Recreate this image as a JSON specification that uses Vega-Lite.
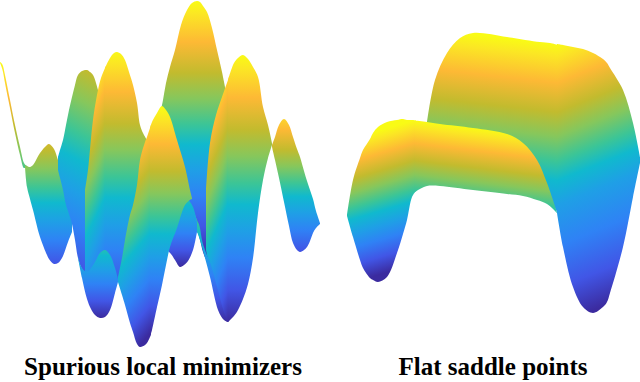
{"$schema":"https://vega.github.io/schema/vega-lite/v6.json","padding":0,"spacing":0,"bounds":"flush","background":"white","config":{"view":{"stroke":null}},
"hconcat":[
{"width":320,"height":350,"title":{"text":"Spurious local minimizers","orient":"bottom","font":"Liberation Serif","fontWeight":"bold","fontSize":25,"color":"#000","dx":3,"offset":5},
"data":{"values":[
{"s":"tail","x":0,"top":62,"bottom":63},{"s":"tail","x":3,"top":66,"bottom":72},{"s":"tail","x":5,"top":75,"bottom":83},{"s":"tail","x":10,"top":100,"bottom":108},{"s":"tail","x":15,"top":125,"bottom":133},{"s":"tail","x":20,"top":147,"bottom":155},{"s":"tail","x":24,"top":163,"bottom":168},{"s":"tail","x":27,"top":166,"bottom":168},
{"s":"lobe","x":25,"top":165,"bottom":167},{"s":"lobe","x":27,"top":166,"bottom":187},{"s":"lobe","x":30,"top":167,"bottom":199},{"s":"lobe","x":33,"top":165,"bottom":210},{"s":"lobe","x":40,"top":153,"bottom":237},{"s":"lobe","x":47,"top":145,"bottom":255},{"s":"lobe","x":49,"top":144,"bottom":259},{"s":"lobe","x":54,"top":149,"bottom":264},{"s":"lobe","x":58,"top":160,"bottom":263},{"s":"lobe","x":62,"top":170,"bottom":258},{"s":"lobe","x":68,"top":190,"bottom":242},{"s":"lobe","x":72,"top":215,"bottom":232},
{"s":"b","x":58,"top":157,"bottom":170},{"s":"b","x":60,"top":150,"bottom":178},{"s":"b","x":63,"top":140,"bottom":190},{"s":"b","x":66,"top":125,"bottom":205},{"s":"b","x":69,"top":110,"bottom":214},{"s":"b","x":72,"top":97,"bottom":224},{"s":"b","x":75,"top":85,"bottom":240},{"s":"b","x":78,"top":75,"bottom":258},{"s":"b","x":82,"top":71,"bottom":269},{"s":"b","x":87,"top":70,"bottom":274},{"s":"b","x":90,"top":72,"bottom":272},{"s":"b","x":93,"top":75,"bottom":268},{"s":"b","x":98,"top":90,"bottom":262},{"s":"b","x":105,"top":120,"bottom":252},{"s":"b","x":110,"top":150,"bottom":257},
{"s":"cl","x":85,"top":190,"bottom":272},{"s":"cl","x":88,"top":170,"bottom":274},{"s":"cl","x":93,"top":120,"bottom":270},{"s":"cl","x":98,"top":90,"bottom":264},{"s":"cl","x":101,"top":78,"bottom":258},{"s":"cl","x":105,"top":68,"bottom":256},{"s":"cl","x":106,"top":66,"bottom":256},
{"s":"c","x":105,"top":68,"bottom":256},{"s":"c","x":110,"top":58,"bottom":260},{"s":"c","x":114,"top":53,"bottom":272},{"s":"c","x":117,"top":52,"bottom":282},{"s":"c","x":121,"top":54,"bottom":270},{"s":"c","x":125,"top":60,"bottom":250},{"s":"c","x":129,"top":72,"bottom":228},{"s":"c","x":133,"top":85,"bottom":210},{"s":"c","x":137,"top":103,"bottom":192},{"s":"c","x":140,"top":125,"bottom":168},{"s":"c","x":143,"top":133,"bottom":152},{"s":"c","x":147,"top":140,"bottom":141},
{"s":"d","x":160,"top":115,"bottom":232},{"s":"d","x":163,"top":100,"bottom":232},{"s":"d","x":166,"top":83,"bottom":232},{"s":"d","x":170,"top":67,"bottom":232},{"s":"d","x":175,"top":50,"bottom":232},{"s":"d","x":181,"top":25,"bottom":232},{"s":"d","x":187,"top":10,"bottom":232},{"s":"d","x":192,"top":3,"bottom":232},{"s":"d","x":197,"top":1,"bottom":232},{"s":"d","x":200,"top":2,"bottom":240},{"s":"d","x":203,"top":6,"bottom":252},{"s":"d","x":207,"top":12,"bottom":260},{"s":"d","x":212,"top":28,"bottom":257},{"s":"d","x":217,"top":50,"bottom":250},{"s":"d","x":222,"top":72,"bottom":200},{"s":"d","x":226,"top":92,"bottom":120},
{"s":"el","x":206,"top":190,"bottom":250},{"s":"el","x":210,"top":143,"bottom":270},{"s":"el","x":216,"top":115,"bottom":298},{"s":"el","x":222,"top":97,"bottom":316},{"s":"el","x":228,"top":80,"bottom":322},{"s":"el","x":229,"top":77,"bottom":321},
{"s":"e","x":228,"top":80,"bottom":322},{"s":"e","x":234,"top":63,"bottom":316},{"s":"e","x":238,"top":58,"bottom":310},{"s":"e","x":243,"top":55,"bottom":299},{"s":"e","x":248,"top":59,"bottom":284},{"s":"e","x":253,"top":67,"bottom":258},{"s":"e","x":258,"top":77,"bottom":213},{"s":"e","x":263,"top":107,"bottom":180},{"s":"e","x":268,"top":125,"bottom":158},{"s":"e","x":272,"top":143,"bottom":145},
{"s":"f","x":272,"top":145,"bottom":147},{"s":"f","x":275,"top":137,"bottom":160},{"s":"f","x":279,"top":125,"bottom":178},{"s":"f","x":284,"top":119,"bottom":202},{"s":"f","x":289,"top":125,"bottom":226},{"s":"f","x":293,"top":137,"bottom":243},{"s":"f","x":297,"top":149,"bottom":250},{"s":"f","x":300,"top":157,"bottom":252},{"s":"f","x":304,"top":171,"bottom":250},{"s":"f","x":307,"top":181,"bottom":247},{"s":"f","x":310,"top":190,"bottom":241},{"s":"f","x":313,"top":199,"bottom":233},{"s":"f","x":316,"top":211,"bottom":228},{"s":"f","x":320,"top":223,"bottom":224},
{"s":"sliver","x":188,"top":200,"bottom":201},{"s":"sliver","x":195,"top":215,"bottom":228},{"s":"sliver","x":197,"top":220,"bottom":232},{"s":"sliver","x":200,"top":228,"bottom":240},{"s":"sliver","x":202,"top":240,"bottom":247},{"s":"sliver","x":205,"top":250,"bottom":258},{"s":"sliver","x":210,"top":262,"bottom":277},{"s":"sliver","x":218,"top":290,"bottom":310},{"s":"sliver","x":224,"top":312,"bottom":320},{"s":"sliver","x":228,"top":321,"bottom":322},
{"s":"g","x":168,"top":250,"bottom":251},{"s":"g","x":171,"top":240,"bottom":254},{"s":"g","x":175,"top":220,"bottom":260},{"s":"g","x":180,"top":206,"bottom":267},{"s":"g","x":184,"top":201,"bottom":265},{"s":"g","x":188,"top":200,"bottom":261},{"s":"g","x":193,"top":207,"bottom":250},{"s":"g","x":197,"top":222,"bottom":232},
{"s":"ll","x":78,"top":257,"bottom":258},{"s":"ll","x":82,"top":268,"bottom":278},{"s":"ll","x":87,"top":272,"bottom":299},{"s":"ll","x":91,"top":268,"bottom":309},{"s":"ll","x":95,"top":262,"bottom":315},{"s":"ll","x":100,"top":253,"bottom":318},{"s":"ll","x":105,"top":250,"bottom":317},{"s":"ll","x":110,"top":255,"bottom":310},{"s":"ll","x":115,"top":268,"bottom":293},{"s":"ll","x":118,"top":279,"bottom":282},
{"s":"hl","x":118,"top":277,"bottom":282},{"s":"hl","x":122,"top":258,"bottom":295},{"s":"hl","x":125,"top":240,"bottom":305},{"s":"hl","x":130,"top":215,"bottom":323},{"s":"hl","x":133,"top":205,"bottom":332},{"s":"hl","x":137,"top":185,"bottom":344},{"s":"hl","x":140,"top":160,"bottom":347},{"s":"hl","x":145,"top":142,"bottom":345},{"s":"hl","x":147,"top":137,"bottom":343},{"s":"hl","x":150,"top":128,"bottom":337},{"s":"hl","x":151,"top":125,"bottom":334},
{"s":"h","x":150,"top":128,"bottom":337},{"s":"h","x":152,"top":122,"bottom":330},{"s":"h","x":157,"top":113,"bottom":307},{"s":"h","x":162,"top":106,"bottom":285},{"s":"h","x":166,"top":110,"bottom":265},{"s":"h","x":170,"top":117,"bottom":247},{"s":"h","x":177,"top":140,"bottom":228},{"s":"h","x":185,"top":167,"bottom":205},{"s":"h","x":190,"top":190,"bottom":200},{"s":"h","x":192,"top":198,"bottom":199}
]},
"encoding":{"x":{"field":"x","type":"quantitative","axis":null,"scale":{"domain":[0,320]}},"y":{"field":"top","type":"quantitative","axis":null,"scale":{"domain":[350,0]}},"y2":{"field":"bottom"}},
"layer":[
{"transform":[{"filter":"datum.s==='tail'"}],"mark":{"type":"area","orient":"vertical","interpolate":"monotone","color":{"gradient":"linear","x1":0,"y1":0,"x2":0,"y2":2.17,"stops":[{"offset":0,"color":"#f9fb15"},{"offset":0.05,"color":"#fbe724"},{"offset":0.16,"color":"#fdb935"},{"offset":0.28,"color":"#c2bb2e"},{"offset":0.38,"color":"#86c75c"},{"offset":0.48,"color":"#3cc596"},{"offset":0.56,"color":"#10b9ce"},{"offset":0.66,"color":"#1f9fe6"},{"offset":0.76,"color":"#2f82f5"},{"offset":0.88,"color":"#4156e6"},{"offset":1,"color":"#3b2b9f"}]}}},
{"transform":[{"filter":"datum.s==='lobe'"}],"mark":{"type":"area","orient":"vertical","interpolate":"catmull-rom","color":{"gradient":"linear","x1":0,"y1":-0.39,"x2":0,"y2":1.18,"stops":[{"offset":0,"color":"#f9fb15"},{"offset":0.05,"color":"#fbe724"},{"offset":0.16,"color":"#fdb935"},{"offset":0.28,"color":"#c2bb2e"},{"offset":0.38,"color":"#86c75c"},{"offset":0.48,"color":"#3cc596"},{"offset":0.56,"color":"#10b9ce"},{"offset":0.66,"color":"#1f9fe6"},{"offset":0.76,"color":"#2f82f5"},{"offset":0.88,"color":"#4156e6"},{"offset":1,"color":"#3b2b9f"}]}}},
{"transform":[{"filter":"datum.s==='b'"}],"mark":{"type":"area","orient":"vertical","interpolate":"catmull-rom","color":{"gradient":"linear","x1":0.56,"y1":-0.46,"x2":0.35,"y2":1.16,"stops":[{"offset":0,"color":"#f9fb15"},{"offset":0.05,"color":"#fbe724"},{"offset":0.16,"color":"#fdb935"},{"offset":0.28,"color":"#c2bb2e"},{"offset":0.38,"color":"#86c75c"},{"offset":0.48,"color":"#3cc596"},{"offset":0.56,"color":"#10b9ce"},{"offset":0.66,"color":"#1f9fe6"},{"offset":0.76,"color":"#2f82f5"},{"offset":0.88,"color":"#4156e6"},{"offset":1,"color":"#3b2b9f"}]}}},
{"transform":[{"filter":"datum.s==='cl'"}],"mark":{"type":"area","orient":"vertical","interpolate":"catmull-rom","color":{"gradient":"linear","x1":0.952,"y1":-0.087,"x2":1.203,"y2":1.148,"stops":[{"offset":0,"color":"#f9fb15"},{"offset":0.05,"color":"#fbe724"},{"offset":0.16,"color":"#fdb935"},{"offset":0.28,"color":"#c2bb2e"},{"offset":0.38,"color":"#86c75c"},{"offset":0.48,"color":"#3cc596"},{"offset":0.56,"color":"#10b9ce"},{"offset":0.66,"color":"#1f9fe6"},{"offset":0.76,"color":"#2f82f5"},{"offset":0.88,"color":"#4156e6"},{"offset":1,"color":"#3b2b9f"}]}}},
{"transform":[{"filter":"datum.s==='c'"}],"mark":{"type":"area","orient":"vertical","interpolate":"catmull-rom","color":{"gradient":"linear","x1":0,"y1":-0.01,"x2":0,"y2":1.14,"stops":[{"offset":0,"color":"#f9fb15"},{"offset":0.05,"color":"#fbe724"},{"offset":0.16,"color":"#fdb935"},{"offset":0.28,"color":"#c2bb2e"},{"offset":0.38,"color":"#86c75c"},{"offset":0.48,"color":"#3cc596"},{"offset":0.56,"color":"#10b9ce"},{"offset":0.66,"color":"#1f9fe6"},{"offset":0.76,"color":"#2f82f5"},{"offset":0.88,"color":"#4156e6"},{"offset":1,"color":"#3b2b9f"}]}}},
{"transform":[{"filter":"datum.s==='d'"}],"mark":{"type":"area","orient":"vertical","interpolate":"catmull-rom","color":{"gradient":"linear","x1":0,"y1":0,"x2":0,"y2":0.99,"stops":[{"offset":0,"color":"#f9fb15"},{"offset":0.05,"color":"#fbe724"},{"offset":0.16,"color":"#fdb935"},{"offset":0.28,"color":"#c2bb2e"},{"offset":0.38,"color":"#86c75c"},{"offset":0.48,"color":"#3cc596"},{"offset":0.56,"color":"#10b9ce"},{"offset":0.66,"color":"#1f9fe6"},{"offset":0.76,"color":"#2f82f5"},{"offset":0.88,"color":"#4156e6"},{"offset":1,"color":"#3b2b9f"}]}}},
{"transform":[{"filter":"datum.s==='el'"}],"mark":{"type":"area","orient":"vertical","interpolate":"catmull-rom","color":{"gradient":"linear","x1":0.957,"y1":-0.103,"x2":1.178,"y2":0.954,"stops":[{"offset":0,"color":"#f9fb15"},{"offset":0.05,"color":"#fbe724"},{"offset":0.16,"color":"#fdb935"},{"offset":0.28,"color":"#c2bb2e"},{"offset":0.38,"color":"#86c75c"},{"offset":0.48,"color":"#3cc596"},{"offset":0.56,"color":"#10b9ce"},{"offset":0.66,"color":"#1f9fe6"},{"offset":0.76,"color":"#2f82f5"},{"offset":0.88,"color":"#4156e6"},{"offset":1,"color":"#3b2b9f"}]}}},
{"transform":[{"filter":"datum.s==='e'"}],"mark":{"type":"area","orient":"vertical","interpolate":"catmull-rom","color":{"gradient":"linear","x1":0,"y1":0,"x2":0,"y2":1,"stops":[{"offset":0,"color":"#f9fb15"},{"offset":0.05,"color":"#fbe724"},{"offset":0.16,"color":"#fdb935"},{"offset":0.28,"color":"#c2bb2e"},{"offset":0.38,"color":"#86c75c"},{"offset":0.48,"color":"#3cc596"},{"offset":0.56,"color":"#10b9ce"},{"offset":0.66,"color":"#1f9fe6"},{"offset":0.76,"color":"#2f82f5"},{"offset":0.88,"color":"#4156e6"},{"offset":1,"color":"#3b2b9f"}]}}},
{"transform":[{"filter":"datum.s==='f'"}],"mark":{"type":"area","orient":"vertical","interpolate":"catmull-rom","color":{"gradient":"linear","x1":0,"y1":-0.12,"x2":0,"y2":1.135,"stops":[{"offset":0,"color":"#f9fb15"},{"offset":0.05,"color":"#fbe724"},{"offset":0.16,"color":"#fdb935"},{"offset":0.28,"color":"#c2bb2e"},{"offset":0.38,"color":"#86c75c"},{"offset":0.48,"color":"#3cc596"},{"offset":0.56,"color":"#10b9ce"},{"offset":0.66,"color":"#1f9fe6"},{"offset":0.76,"color":"#2f82f5"},{"offset":0.88,"color":"#4156e6"},{"offset":1,"color":"#3b2b9f"}]}}},
{"transform":[{"filter":"datum.s==='sliver'"}],"mark":{"type":"area","orient":"vertical","interpolate":"monotone","color":{"gradient":"linear","x1":0,"y1":-0.61,"x2":0,"y2":1,"stops":[{"offset":0,"color":"#f9fb15"},{"offset":0.05,"color":"#fbe724"},{"offset":0.16,"color":"#fdb935"},{"offset":0.28,"color":"#c2bb2e"},{"offset":0.38,"color":"#86c75c"},{"offset":0.48,"color":"#3cc596"},{"offset":0.56,"color":"#10b9ce"},{"offset":0.66,"color":"#1f9fe6"},{"offset":0.76,"color":"#2f82f5"},{"offset":0.88,"color":"#4156e6"},{"offset":1,"color":"#3b2b9f"}]}}},
{"transform":[{"filter":"datum.s==='g'"}],"mark":{"type":"area","orient":"vertical","interpolate":"catmull-rom","color":{"gradient":"linear","x1":0,"y1":-1.09,"x2":0,"y2":1,"stops":[{"offset":0,"color":"#f9fb15"},{"offset":0.05,"color":"#fbe724"},{"offset":0.16,"color":"#fdb935"},{"offset":0.28,"color":"#c2bb2e"},{"offset":0.38,"color":"#86c75c"},{"offset":0.48,"color":"#3cc596"},{"offset":0.56,"color":"#10b9ce"},{"offset":0.66,"color":"#1f9fe6"},{"offset":0.76,"color":"#2f82f5"},{"offset":0.88,"color":"#4156e6"},{"offset":1,"color":"#3b2b9f"}]}}},
{"transform":[{"filter":"datum.s==='ll'"}],"mark":{"type":"area","orient":"vertical","interpolate":"catmull-rom","color":{"gradient":"linear","x1":0,"y1":-1.09,"x2":0,"y2":1,"stops":[{"offset":0,"color":"#f9fb15"},{"offset":0.05,"color":"#fbe724"},{"offset":0.16,"color":"#fdb935"},{"offset":0.28,"color":"#c2bb2e"},{"offset":0.38,"color":"#86c75c"},{"offset":0.48,"color":"#3cc596"},{"offset":0.56,"color":"#10b9ce"},{"offset":0.66,"color":"#1f9fe6"},{"offset":0.76,"color":"#2f82f5"},{"offset":0.88,"color":"#4156e6"},{"offset":1,"color":"#3b2b9f"}]}}},
{"transform":[{"filter":"datum.s==='hl'"}],"mark":{"type":"area","orient":"vertical","interpolate":"catmull-rom","color":{"gradient":"linear","x1":0.97,"y1":-0.091,"x2":1.145,"y2":0.906,"stops":[{"offset":0,"color":"#f9fb15"},{"offset":0.05,"color":"#fbe724"},{"offset":0.16,"color":"#fdb935"},{"offset":0.28,"color":"#c2bb2e"},{"offset":0.38,"color":"#86c75c"},{"offset":0.48,"color":"#3cc596"},{"offset":0.56,"color":"#10b9ce"},{"offset":0.66,"color":"#1f9fe6"},{"offset":0.76,"color":"#2f82f5"},{"offset":0.88,"color":"#4156e6"},{"offset":1,"color":"#3b2b9f"}]}}},
{"transform":[{"filter":"datum.s==='h'"}],"mark":{"type":"area","orient":"vertical","interpolate":"catmull-rom","color":{"gradient":"linear","x1":0,"y1":0.009,"x2":0,"y2":0.983,"stops":[{"offset":0,"color":"#f9fb15"},{"offset":0.05,"color":"#fbe724"},{"offset":0.16,"color":"#fdb935"},{"offset":0.28,"color":"#c2bb2e"},{"offset":0.38,"color":"#86c75c"},{"offset":0.48,"color":"#3cc596"},{"offset":0.56,"color":"#10b9ce"},{"offset":0.66,"color":"#1f9fe6"},{"offset":0.76,"color":"#2f82f5"},{"offset":0.88,"color":"#4156e6"},{"offset":1,"color":"#3b2b9f"}]}}}
]},
{"width":320,"height":350,"title":{"text":"Flat saddle points","orient":"bottom","font":"Liberation Serif","fontWeight":"bold","fontSize":25,"color":"#000","dx":13,"offset":5},
"data":{"values":[
{"s":"bl","x":427,"top":122,"bottom":124},{"s":"bl","x":435,"top":80,"bottom":130},{"s":"bl","x":447,"top":53,"bottom":140},{"s":"bl","x":460,"top":38,"bottom":145},{"s":"bl","x":473,"top":33,"bottom":150},{"s":"bl","x":507,"top":37,"bottom":158},{"s":"bl","x":540,"top":42,"bottom":178},{"s":"bl","x":550,"top":43,"bottom":200},{"s":"bl","x":558,"top":45,"bottom":213},
{"s":"br","x":557,"top":44,"bottom":213},{"s":"br","x":563,"top":45,"bottom":247},{"s":"br","x":573,"top":47,"bottom":287},{"s":"br","x":583,"top":49,"bottom":307},{"s":"br","x":593,"top":53,"bottom":313},{"s":"br","x":603,"top":59,"bottom":307},{"s":"br","x":607,"top":63,"bottom":302},{"s":"br","x":610,"top":68,"bottom":293},{"s":"br","x":623,"top":90,"bottom":247},{"s":"br","x":633,"top":123,"bottom":197},{"s":"br","x":640,"top":157,"bottom":163},
{"s":"fl","x":347,"top":215,"bottom":216},{"s":"fl","x":353,"top":180,"bottom":237},{"s":"fl","x":360,"top":158,"bottom":260},{"s":"fl","x":363,"top":150,"bottom":268},{"s":"fl","x":370,"top":139,"bottom":278},{"s":"fl","x":373,"top":133,"bottom":280},{"s":"fl","x":378,"top":127,"bottom":282},{"s":"fl","x":387,"top":122,"bottom":277},{"s":"fl","x":397,"top":120,"bottom":253},{"s":"fl","x":403,"top":119,"bottom":234},{"s":"fl","x":407,"top":120,"bottom":220},{"s":"fl","x":412,"top":120,"bottom":197},{"s":"fl","x":416,"top":120.5,"bottom":191},
{"s":"fb","x":415,"top":120.5,"bottom":192},{"s":"fb","x":427,"top":122,"bottom":186},{"s":"fb","x":440,"top":124,"bottom":186},{"s":"fb","x":473,"top":128,"bottom":190},{"s":"fb","x":507,"top":134,"bottom":194},{"s":"fb","x":523,"top":143,"bottom":196},{"s":"fb","x":537,"top":160,"bottom":200},{"s":"fb","x":547,"top":183,"bottom":204},{"s":"fb","x":557,"top":212,"bottom":213}
]},
"encoding":{"x":{"field":"x","type":"quantitative","axis":null,"scale":{"domain":[320,640]}},"y":{"field":"top","type":"quantitative","axis":null,"scale":{"domain":[350,0]}},"y2":{"field":"bottom"}},
"layer":[
{"transform":[{"filter":"datum.s==='bl'"}],"mark":{"type":"area","orient":"vertical","interpolate":"catmull-rom","color":{"gradient":"linear","x1":0.992,"y1":0.061,"x2":0.885,"y2":1.408,"stops":[{"offset":0,"color":"#f9fb15"},{"offset":0.05,"color":"#fbe724"},{"offset":0.16,"color":"#fdb935"},{"offset":0.28,"color":"#c2bb2e"},{"offset":0.38,"color":"#86c75c"},{"offset":0.48,"color":"#3cc596"},{"offset":0.56,"color":"#10b9ce"},{"offset":0.66,"color":"#1f9fe6"},{"offset":0.76,"color":"#2f82f5"},{"offset":0.88,"color":"#4156e6"},{"offset":1,"color":"#3b2b9f"}]}}},
{"transform":[{"filter":"datum.s==='br'"}],"mark":{"type":"area","orient":"vertical","interpolate":"catmull-rom","color":{"gradient":"linear","x1":0,"y1":0,"x2":0.1265,"y2":1.028,"stops":[{"offset":0,"color":"#f9fb15"},{"offset":0.043,"color":"#fbe724"},{"offset":0.139,"color":"#fdb935"},{"offset":0.243,"color":"#c2bb2e"},{"offset":0.33,"color":"#86c75c"},{"offset":0.417,"color":"#3cc596"},{"offset":0.487,"color":"#10b9ce"},{"offset":0.574,"color":"#1f9fe6"},{"offset":0.72,"color":"#2f82f5"},{"offset":0.87,"color":"#4156e6"},{"offset":1,"color":"#3b2b9f"}]}}},
{"transform":[{"filter":"datum.s==='fl'"}],"mark":{"type":"area","orient":"vertical","interpolate":"catmull-rom","color":{"gradient":"linear","x1":0.986,"y1":0.006,"x2":1.095,"y2":0.876,"stops":[{"offset":0,"color":"#f9fb15"},{"offset":0.05,"color":"#fbe724"},{"offset":0.16,"color":"#fdb935"},{"offset":0.28,"color":"#c2bb2e"},{"offset":0.38,"color":"#86c75c"},{"offset":0.48,"color":"#3cc596"},{"offset":0.56,"color":"#10b9ce"},{"offset":0.66,"color":"#1f9fe6"},{"offset":0.76,"color":"#2f82f5"},{"offset":0.88,"color":"#4156e6"},{"offset":1,"color":"#3b2b9f"}]}}},
{"transform":[{"filter":"datum.s==='fb'"}],"mark":{"type":"area","orient":"vertical","interpolate":"catmull-rom","color":{"gradient":"linear","x1":0,"y1":0,"x2":-0.274,"y2":1.499,"stops":[{"offset":0,"color":"#f9fb15"},{"offset":0.05,"color":"#fbe724"},{"offset":0.16,"color":"#fdb935"},{"offset":0.28,"color":"#c2bb2e"},{"offset":0.38,"color":"#86c75c"},{"offset":0.48,"color":"#3cc596"},{"offset":0.56,"color":"#10b9ce"},{"offset":0.66,"color":"#1f9fe6"},{"offset":0.76,"color":"#2f82f5"},{"offset":0.88,"color":"#4156e6"},{"offset":1,"color":"#3b2b9f"}]}}}
]}
]}
